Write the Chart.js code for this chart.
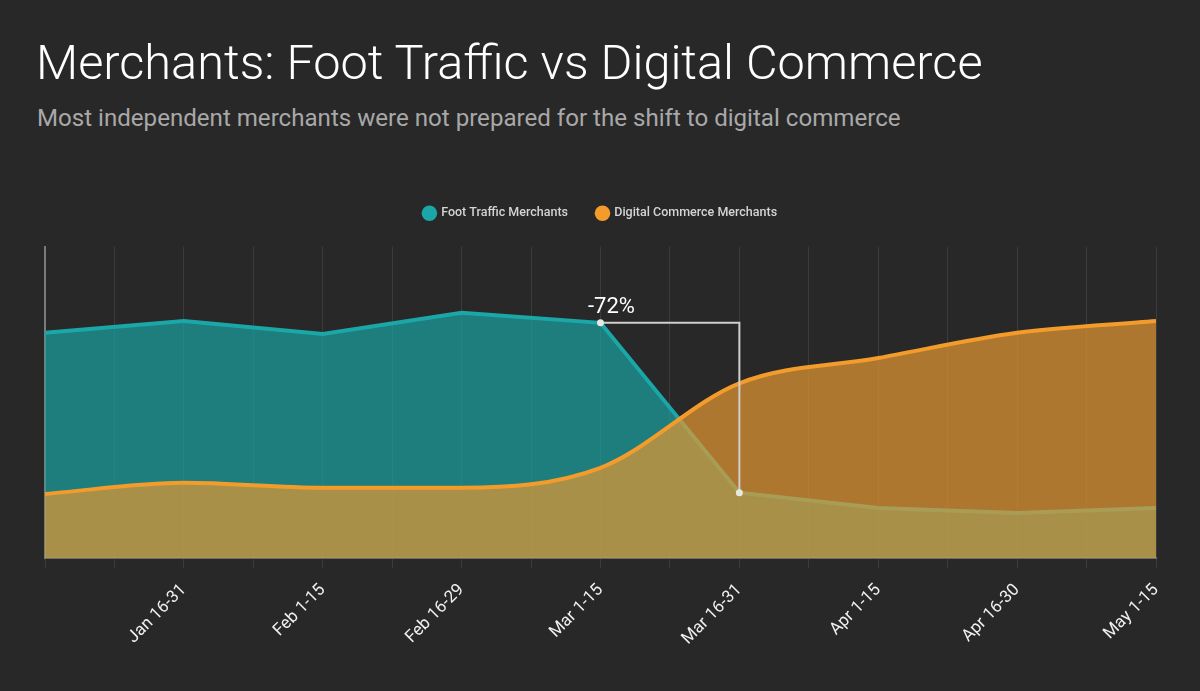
<!DOCTYPE html>
<html>
<head>
<meta charset="utf-8">
<script src="https://cdn.jsdelivr.net/npm/chart.js@4"></script>
<style>
  body { margin: 0; background: #282828; font-family: Roboto, sans-serif; }
  #wrap { position: relative; width: 1200px; height: 691px; }
  h1 { position: absolute; left: 36px; top: 39px; margin: 0; font-weight: 300; font-size: 48.7px; color: #fff; line-height: 1; white-space: nowrap; }
  p { position: absolute; left: 37px; top: 104px; margin: 0; font-size: 24.1px; line-height: 1.2; color: #a8a8a8; white-space: nowrap; }
  canvas { position: absolute; left: 0; top: 0; }
</style>
</head>
<body>
<div id="wrap">
  <h1>Merchants: Foot Traffic vs Digital Commerce</h1>
  <p>Most independent merchants were not prepared for the shift to digital commerce</p>
  <canvas id="myChart" width="1200" height="691"></canvas>
</div>
<script>
// periods along the x-axis (first one is not labelled in the picture)
var periods = ["Jan 1-15", "Jan 16-31", "Feb 1-15", "Feb 16-29", "Mar 1-15", "Mar 16-31", "Apr 1-15", "Apr 16-30", "May 1-15"];
// index (0-100)
var footTraffic = [72.3, 76.1, 71.9, 78.7, 75.5, 21.0, 16.1, 14.5, 16.1];
var digitalCommerce = [20.6, 24.2, 22.6, 22.6, 29.0, 56.1, 64.2, 72.3, 76.1];
// the -72% callout goes from this period to the next one
var dropFrom = 4, dropTo = 5;

function toPoints(arr) {
  return arr.map(function (v, i) { return { x: i, y: v }; });
}

// extra room under the legend
var legendGap = {
  id: 'legendGap',
  beforeInit: function (chart) {
    var fit = chart.legend.fit;
    chart.legend.fit = function () {
      fit.call(this);
      this.height += 17;
    };
  }
};

var dropNote = {
  id: 'dropNote',
  afterDatasetsDraw: function (chart) {
    var c = chart.ctx, xs = chart.scales.x, ys = chart.scales.y;
    var x1 = xs.getPixelForValue(dropFrom), y1 = ys.getPixelForValue(footTraffic[dropFrom]);
    var x2 = xs.getPixelForValue(dropTo), y2 = ys.getPixelForValue(footTraffic[dropTo]);
    var pct = Math.round((footTraffic[dropTo] / footTraffic[dropFrom] - 1) * 100);
    c.save();
    c.strokeStyle = '#cfcfcf';
    c.lineWidth = 2;
    c.beginPath();
    c.moveTo(x1, y1); c.lineTo(x2, y1); c.lineTo(x2, y2);
    c.stroke();
    c.fillStyle = '#e8e8e0';
    [[x1, y1], [x2, y2]].forEach(function (p) {
      c.beginPath(); c.arc(p[0], p[1], 3.5, 0, Math.PI * 2); c.fill();
    });
    c.fillStyle = '#ffffff';
    c.font = '22px Roboto';
    c.textAlign = 'center';
    c.textBaseline = 'bottom';
    c.fillText(pct + '%', x1 + 11, y1 - 4);
    c.restore();
  }
};

var ctx = document.getElementById("myChart");
var myChart = new Chart(ctx, {
  type: 'line',
  data: {
    datasets: [
      {
        label: "Foot Traffic Merchants",
        data: toPoints(footTraffic),
        borderColor: "#1ba7a8",
        backgroundColor: "rgba(25,170,170,0.65)",
        borderWidth: 4,
        fill: 'origin',
        tension: 0,
        order: 1
      },
      {
        label: "Digital Commerce Merchants",
        data: toPoints(digitalCommerce),
        borderColor: "#f39c2c",
        backgroundColor: "rgba(230,152,50,0.7)",
        borderWidth: 4,
        fill: 'origin',
        cubicInterpolationMode: 'monotone',
        order: 0
      }
    ]
  },
  options: {
    responsive: false,
    animation: false,
    layout: { padding: { top: 178, left: 45, right: 44, bottom: 30 } },
    elements: { point: { radius: 0, hoverRadius: 0 } },
    plugins: {
      tooltip: { enabled: false },
      legend: {
        labels: {
          usePointStyle: true,
          pointStyle: 'circle',
          boxWidth: 11,
          boxHeight: 11,
          padding: 29,
          color: '#d4d4d4',
          font: { family: 'Roboto', size: 12.5, weight: '500' },
          sort: function (a, b) { return a.datasetIndex - b.datasetIndex; },
          generateLabels: function (chart) {
            return Chart.defaults.plugins.legend.labels.generateLabels(chart).map(function (l) {
              l.fillStyle = l.strokeStyle;
              l.lineWidth = 0;
              return l;
            });
          }
        }
      }
    },
    scales: {
      x: {
        type: 'linear',
        min: 0,
        max: periods.length - 1,
        afterBuildTicks: function (axis) {
          var t = [];
          for (var v = 0; v <= periods.length - 1; v += 0.5) t.push({ value: v });
          axis.ticks = t;
        },
        ticks: {
          color: '#f0f0f0',
          font: { family: 'Roboto', size: 17 },
          minRotation: 45,
          maxRotation: 45,
          autoSkip: false,
          padding: 12,
          callback: function (v) {
            return (Number.isInteger(v) && v > 0) ? periods[v] : '';
          }
        },
        grid: { color: 'rgba(255,255,255,0.09)', tickLength: 10, drawTicks: true },
        border: { color: '#6a6a6a', width: 2 }
      },
      y: {
        min: 0,
        max: 100,
        ticks: { display: false },
        grid: { display: false, drawTicks: false },
        border: { color: '#7a7a7a', width: 2 }
      }
    }
  },
  plugins: [legendGap, dropNote]
});
</script>
</body>
</html>
